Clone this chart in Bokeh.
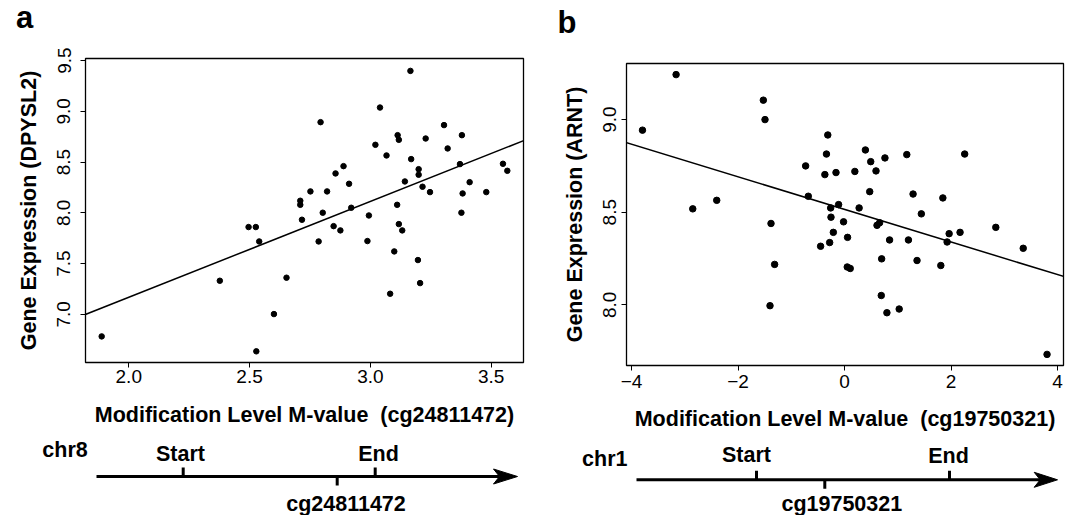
from bokeh.plotting import figure
from bokeh.models import Range1d, FixedTicker, Slope, PrintfTickFormatter
from bokeh.layouts import row, column
from bokeh.embed import file_html
from bokeh.resources import INLINE
from bokeh.core.properties import value

# ---------------- data ----------------
# Panel a: cg24811472 M-value vs DPYSL2 expression
a_x = [1.888, 2.528, 2.377, 2.601, 2.653, 2.496, 2.526, 2.540, 2.710, 2.710,
       2.717, 2.752, 2.794, 2.803, 2.786, 2.821, 2.848, 2.856, 2.876, 2.889,
       2.912, 2.921, 2.988, 2.994, 3.021, 3.040, 3.067, 3.082, 3.099, 3.111,
       3.113, 3.118, 3.118, 3.132, 3.143, 3.166, 3.169, 3.197, 3.200, 3.200,
       3.206, 3.216, 3.229, 3.247, 3.305, 3.320, 3.371, 3.379, 3.382, 3.377,
       3.411, 3.480, 3.549, 3.567]
a_y = [6.783, 6.636, 7.331, 7.003, 7.361, 7.860, 7.860, 7.718, 8.119, 8.079,
       7.932, 8.211, 8.893, 8.001, 7.718, 8.211, 7.869, 8.388, 7.827, 8.460,
       8.286, 8.050, 7.722, 7.974, 8.670, 9.037, 8.565, 7.203, 7.620, 8.079,
       8.765, 8.719, 7.889, 7.827, 8.309, 9.398, 8.529, 7.535, 8.430, 8.375,
       7.308, 8.257, 8.732, 8.204, 8.864, 8.634, 8.480, 8.765, 8.191, 8.001,
       8.302, 8.204, 8.483, 8.414]
a_fit = {"intercept": 5.28, "slope": 0.944}
a_xticks = [2.0, 2.5, 3.0, 3.5]
a_yticks = [7.0, 7.5, 8.0, 8.5, 9.0, 9.5]
a_xrange = (1.821, 3.634)
a_yrange = (6.526, 9.52)

# Panel b: cg19750321 M-value vs ARNT expression
b_x = [-3.794, -3.163, -2.85, -2.40, -1.525, -1.494, -1.381, -1.313, -1.40, -0.731,
       -0.681, -0.45, -0.37, -0.34, -0.315, -0.161, -0.261, -0.112, -0.255, -0.211,
       -0.28, -0.019, 0.056, 0.05, 0.106, 0.193, 0.273, 0.391, 0.491, 0.472,
       0.59, 0.758, 0.609, 0.658, 0.696, 0.845, 0.689, 0.795, 1.025, 1.168,
       1.286, 1.199, 1.441, 1.36, 1.845, 1.963, 1.925, 1.807, 2.168, 2.255,
       2.839, 3.354, 3.801]
b_y = [8.943, 9.243, 8.518, 8.564, 9.105, 9.0, 8.439, 8.218, 7.995, 8.75,
       8.586, 8.316, 8.703, 8.814, 8.917, 8.714, 8.523, 8.541, 8.473, 8.391,
       8.336, 8.448, 8.364, 8.204, 8.196, 8.72, 8.523, 8.836, 8.773, 8.611,
       8.723, 8.793, 8.429, 8.443, 8.248, 8.35, 8.05, 7.957, 7.977, 8.811,
       8.598, 8.35, 8.491, 8.239, 8.577, 8.384, 8.339, 8.212, 8.391, 8.814,
       8.418, 8.305, 7.732]
b_fit = {"intercept": 8.515, "slope": -0.088}
b_xticks = [-4, -2, 0, 2, 4]
b_xlabels = {-4: "\u22124", -2: "\u22122", 0: "0", 2: "2", 4: "4"}
b_yticks = [8.0, 8.5, 9.0]
b_xrange = (-4.094, 4.11)
b_yrange = (7.672, 9.303)

FONT = "Liberation Sans"
TITLE_SIZE = "21.5px"
TICK_SIZE = "19px"
COMMON = dict(output_backend="svg", toolbar_location=None, frame_align=False)


def blank_fig(w, h):
    f = figure(width=w, height=h, x_range=Range1d(0, w), y_range=Range1d(h, 0),
               x_axis_location=None, y_axis_location=None, min_border=0, **COMMON)
    f.grid.visible = False
    f.outline_line_color = None
    return f


def letter_fig(letter, w, h, x, y):
    f = blank_fig(w, h)
    f.text(x=[x], y=[y], text=[letter], text_font=value(FONT), text_font_size="31px",
           text_font_style="bold", text_align="left", text_baseline="middle",
           text_color="black")
    return f


def scatter_fig(xs, ys, fit, xr, yr, xticks, yticks, xlabel, ylabel, w, h, borders,
                dot, stand, xlabels=None, xfmt=True):
    left, right, top, bottom = borders
    xl_so, xt_so, yl_so, yt_so = stand
    p = figure(width=w, height=h, x_range=Range1d(*xr), y_range=Range1d(*yr),
               min_border_left=left, min_border_right=right, min_border_top=top,
               min_border_bottom=bottom, **COMMON)
    p.grid.visible = False
    p.outline_line_color = "black"
    p.outline_line_width = 1.3
    p.outline_line_alpha = 1.0
    p.background_fill_color = "white"
    p.border_fill_color = "white"
    p.scatter(xs, ys, size=dot, color="black", line_color="black")
    p.add_layout(Slope(gradient=fit["slope"], y_intercept=fit["intercept"],
                       line_color="black", line_width=1.5))
    for ax in (p.xaxis[0], p.yaxis[0]):
        ax.axis_line_color = None
        ax.major_tick_line_color = "black"
        ax.major_tick_line_width = 1
        ax.major_tick_out = 5
        ax.major_tick_in = 0
        ax.minor_tick_line_color = None
        ax.major_label_text_font = FONT
        ax.major_label_text_font_size = TICK_SIZE
        ax.major_label_text_color = "black"
        ax.axis_label_text_font = FONT
        ax.axis_label_text_font_size = TITLE_SIZE
        ax.axis_label_text_font_style = "bold"
        ax.axis_label_text_color = "black"
    p.xaxis.ticker = FixedTicker(ticks=xticks)
    p.yaxis.ticker = FixedTicker(ticks=yticks)
    p.yaxis.formatter = PrintfTickFormatter(format="%.1f")
    if xfmt:
        p.xaxis.formatter = PrintfTickFormatter(format="%.1f")
    if xlabels:
        p.xaxis.major_label_overrides = xlabels
    p.xaxis.major_label_standoff = xl_so
    p.xaxis.axis_label_standoff = xt_so
    p.xaxis.axis_label = xlabel
    p.yaxis.major_label_orientation = "vertical"
    p.yaxis.major_label_standoff = yl_so
    p.yaxis.axis_label_standoff = yt_so
    p.yaxis.axis_label = ylabel
    return p


def diagram_fig(w, h, L):
    f = blank_fig(w, h)
    ly = L["line_y"]
    f.segment(x0=[L["line_x0"]], y0=[ly], x1=[L["head_base"] + 6], y1=[ly],
              line_width=3, line_color="black")
    f.patch(x=[L["tip"], L["head_base"], L["head_base"] + 6, L["head_base"]],
            y=[ly, ly - 7.5, ly, ly + 7.5], fill_color="black", line_color="black",
            line_width=1)
    f.segment(x0=[L["start_x"], L["end_x"], L["cg_x"]],
              y0=[ly - 9, ly - 9, ly],
              x1=[L["start_x"], L["end_x"], L["cg_x"]],
              y1=[ly, ly, ly + 9], line_width=3, line_color="black")
    for txt, (tx, ty) in L["texts"].items():
        f.text(x=[tx], y=[ty], text=[txt], text_font=value(FONT),
               text_font_size=TITLE_SIZE, text_font_style="bold", text_align="center",
               text_baseline="middle", text_color="black")
    return f


# ---------------- layout ----------------
WA, WB = 540, 528
LET_H, SC_H, DG_H = 44, 392, 79
GAP = "\u00a0 "

let_a = letter_fig("a", WA, LET_H, 15.5, 16.7)
sc_a = scatter_fig(a_x, a_y, a_fit, a_xrange, a_yrange, a_xticks, a_yticks,
                   "Modification Level M-value" + GAP + "(cg24811472)",
                   "Gene Expression (DPYSL2)",
                   WA, SC_H, (85, 17, 14, 74), 5.5, (2, 17, 10, 14))
dg_a = diagram_fig(WA, DG_H, {
    "line_y": 40, "line_x0": 96, "tip": 517, "head_base": 493,
    "start_x": 182.7, "end_x": 374.7, "cg_x": 336.7,
    "texts": {"chr8": (64.5, 13.5), "Start": (180, 17.5), "End": (378, 17.5),
              "cg24811472": (345.5, 67.5)},
})

let_b = letter_fig("b", WB, LET_H, 17, 21.7)
sc_b = scatter_fig(b_x, b_y, b_fit, b_xrange, b_yrange, b_xticks, b_yticks,
                   "Modification Level M-value" + GAP + "(cg19750321)",
                   "Gene Expression (ARNT)",
                   WB, SC_H, (86, 5, 19, 71), 6.5, (4, 16, 5, 14), b_xlabels,
                   xfmt=False)
dg_b = diagram_fig(WB, DG_H, {
    "line_y": 43.3, "line_x0": 96, "tip": 517, "head_base": 493.7,
    "start_x": 216, "end_x": 409, "cg_x": 284.3,
    "texts": {"chr1": (64.3, 22.5), "Start": (206, 18.2), "End": (408, 19.5),
              "cg19750321": (301.3, 67.2)},
})

layout = row(column(let_a, sc_a, dg_a), column(let_b, sc_b, dg_b))

open("out.html", "w").write(file_html(layout, INLINE))
